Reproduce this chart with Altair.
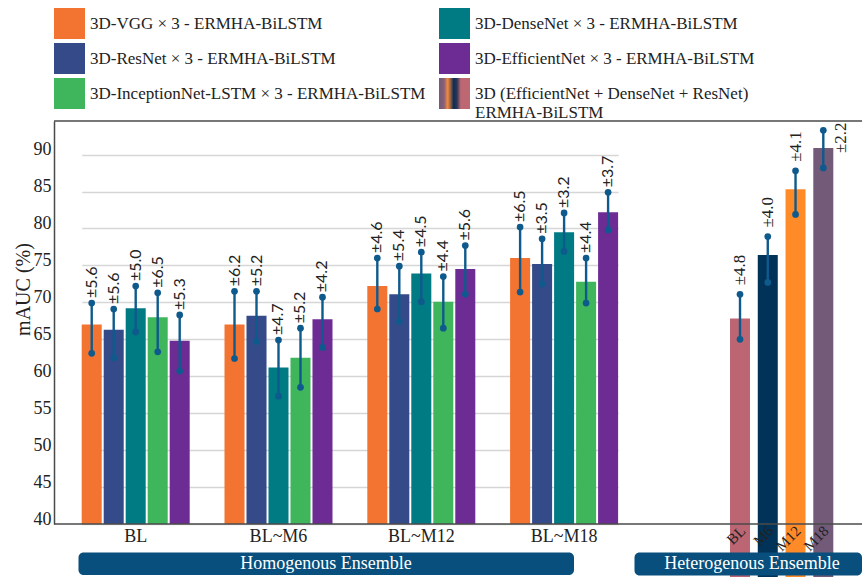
import altair as alt
import pandas as pd

SERIF = "Liberation Serif"
ERR_COLOR = "#0F5A8C"
TEXT_COLOR = "#222222"
Y_TITLE = "mAUC (%)"

# ---------------- data ----------------
periods = ["BL", "BL~M6", "BL~M12", "BL~M18"]

# bar order inside each group
models = [
    "3D-VGG × 3 - ERMHA-BiLSTM",
    "3D-ResNet × 3 - ERMHA-BiLSTM",
    "3D-DenseNet × 3 - ERMHA-BiLSTM",
    "3D-InceptionNet-LSTM  × 3 - ERMHA-BiLSTM",
    "3D-EfficientNet × 3 - ERMHA-BiLSTM",
]
model_colors = ["#F37430", "#344A89", "#007A83", "#3FB65B", "#6D2B94"]

# mean AUC (%) per model, one value per period
mauc = [
    [67.0, 67.0, 72.2, 76.0],
    [66.3, 68.2, 71.1, 75.2],
    [69.2, 61.2, 73.9, 79.5],
    [68.0, 62.5, 70.1, 72.8],
    [64.8, 67.7, 74.5, 82.2],
]
# reported standard deviations
sd = [
    [5.6, 6.2, 4.6, 6.5],
    [5.6, 5.2, 5.4, 3.5],
    [5.0, 4.7, 4.5, 3.2],
    [6.5, 5.2, 4.4, 4.4],
    [5.3, 4.2, 5.6, 3.7],
]
# whisker ends
err_low = [
    [63.1, 62.4, 69.1, 71.4],
    [62.5, 64.7, 67.4, 72.5],
    [66.0, 57.3, 70.1, 76.9],
    [63.3, 58.5, 66.5, 69.9],
    [60.7, 63.9, 71.1, 79.8],
]
err_high = [
    [69.9, 71.5, 76.0, 80.2],
    [69.1, 71.5, 74.9, 78.6],
    [72.2, 64.9, 76.8, 82.1],
    [71.3, 66.5, 73.5, 76.0],
    [68.3, 70.7, 77.7, 84.9],
]

# heterogeneous ensemble
hetero_name = "3D (EfficientNet + DenseNet +  ResNet)|ERMHA-BiLSTM"
stages = ["BL", "M6", "M12", "M18"]
stage_colors = ["#BB6672", "#003357", "#FF8B28", "#725A78"]
het_mauc = [67.8, 76.4, 85.3, 90.9]
het_sd = [4.8, 4.0, 4.1, 2.2]
het_low = [65.0, 72.7, 81.9, 88.2]
het_high = [71.1, 78.9, 87.8, 93.3]

ensembles = ["Homogenous  Ensemble", "Heterogenous  Ensemble"]

# ---------------- tables ----------------
rows = []
for i, m in enumerate(models):
    for j, p in enumerate(periods):
        rows.append(dict(model=m, period=p, mauc=mauc[i][j], sd=sd[i][j],
                         lo=err_low[i][j], hi=err_high[i][j]))
homo_df = pd.DataFrame(rows)

het_df = pd.DataFrame(dict(stage=stages, mauc=het_mauc, sd=het_sd,
                           lo=het_low, hi=het_high))

W, H = 808, 403
y_scale = alt.Scale(domain=[40, 94.55], nice=False, zero=False)

# legend: homogeneous models plus a striped swatch for the mixed ensemble
legend_order = [models[0], models[2], models[1], models[4], models[3], hetero_name]
legend_colors = [model_colors[0], model_colors[2], model_colors[1],
                 model_colors[4], model_colors[3],
                 {"expr": "{gradient: 'linear', x1: 0, y1: 0, x2: 1, y2: 0, stops: ["
                          "{offset: 0, color: '#735A78'}, {offset: 0.16, color: '#86607A'},"
                          "{offset: 0.28, color: '#F58A34'}, {offset: 0.38, color: '#8A5A4C'},"
                          "{offset: 0.47, color: '#0B2F52'}, {offset: 0.58, color: '#2B3556'},"
                          "{offset: 0.7, color: '#BC6772'}, {offset: 1, color: '#BC6772'}]}"}]

# ---------------- homogeneous groups ----------------
base_h = alt.Chart(homo_df).encode(
    x=alt.X("period:N", sort=periods,
            scale=alt.Scale(domain=periods, range=[27.7, 564.1],
                            paddingInner=0.2437, paddingOuter=0),
            axis=alt.Axis(title=None, labelAngle=0, ticks=False, domain=False,
                          grid=False, labelFont=SERIF, labelFontSize=18,
                          labelColor=TEXT_COLOR, labelPadding=3)),
    xOffset=alt.XOffset("model:N", sort=models,
                        scale=alt.Scale(domain=models, paddingInner=0.09,
                                        paddingOuter=0)),
)

bars_h = base_h.mark_bar(clip=True).encode(
    y=alt.Y("mauc:Q", scale=y_scale, title=Y_TITLE,
            axis=alt.Axis(values=list(range(40, 95, 5)),
                          titleFont=SERIF, titleFontSize=20,
                          titleColor=TEXT_COLOR, titleFontWeight="normal",
                          titleAngle=270, titleX=-31, titleY=168,
                          titleAlign="center", titleBaseline="middle")),
    color=alt.Color("model:N",
                    scale=alt.Scale(domain=legend_order, range=legend_colors),
                    legend=alt.Legend(
                        title=None, orient="none", legendX=0, legendY=-113,
                        direction="horizontal", columns=2,
                        columnPadding=9, rowPadding=4, symbolType="square",
                        symbolSize=961, symbolStrokeWidth=0, symbolOpacity=1,
                        labelFont=SERIF, labelFontSize=17,
                        labelColor=TEXT_COLOR, labelLimit=600, labelOffset=5,
                        padding=0, labelExpr="split(datum.label, '|')")),
)

rules_h = base_h.mark_rule(color=ERR_COLOR, strokeWidth=2.4).encode(
    y=alt.Y("lo:Q", scale=y_scale, title=Y_TITLE), y2="hi:Q")

dots_h = base_h.transform_fold(["lo", "hi"], as_=["end", "val"]).mark_circle(
    size=45, color=ERR_COLOR, opacity=1).encode(
    y=alt.Y("val:Q", scale=y_scale, title=Y_TITLE))

labels_h = base_h.transform_calculate(
    lab="'±' + format(datum.sd, '.1f')").mark_text(
    angle=270, align="left", baseline="middle", dx=5,
    font="Lato", fontSize=16, color=TEXT_COLOR).encode(
    y=alt.Y("hi:Q", scale=y_scale, title=Y_TITLE), text="lab:N")

homo_layer = alt.layer(bars_h, rules_h, dots_h, labels_h)

# ---------------- heterogeneous ensemble ----------------
base_e = alt.Chart(het_df).encode(
    x=alt.X("stage:N", sort=stages,
            scale=alt.Scale(domain=stages, range=[676, 779.3],
                            paddingInner=0.28, paddingOuter=0),
            axis=None),
)

bars_e = base_e.mark_bar().encode(
    y=alt.Y("mauc:Q", scale=y_scale, title=Y_TITLE),
    color=alt.Color("stage:N", scale=alt.Scale(domain=stages, range=stage_colors),
                    legend=None),
)
rules_e = base_e.mark_rule(color=ERR_COLOR, strokeWidth=2.4).encode(
    y=alt.Y("lo:Q", scale=y_scale, title=Y_TITLE), y2="hi:Q")
dots_e = base_e.transform_fold(["lo", "hi"], as_=["end", "val"]).mark_circle(
    size=45, color=ERR_COLOR, opacity=1).encode(
    y=alt.Y("val:Q", scale=y_scale, title=Y_TITLE))

het_lab = base_e.transform_calculate(lab="'±' + format(datum.sd, '.1f')")
labels_e = het_lab.transform_filter(alt.datum.stage != "M18").mark_text(
    angle=270, align="left", baseline="middle", dx=9,
    font=SERIF, fontSize=17, color=TEXT_COLOR).encode(
    y=alt.Y("hi:Q", scale=y_scale, title=Y_TITLE), text="lab:N")
# the last label has no room above its whisker, so it sits beside the bar
labels_e_side = het_lab.transform_filter(alt.datum.stage == "M18").mark_text(
    angle=270, align="left", baseline="middle", dx=-5, dy=18,
    font=SERIF, fontSize=17, color=TEXT_COLOR).encode(
    y=alt.Y("mauc:Q", scale=y_scale, title=Y_TITLE), text="lab:N")

stage_ticks = base_e.mark_text(
    angle=315, align="right", baseline="middle", dx=1, dy=3,
    font=SERIF, fontSize=15, color=TEXT_COLOR).encode(
    y=alt.value(H + 3), text="stage:N")

het_layer = alt.layer(bars_e, rules_e, dots_e, labels_e, labels_e_side, stage_ticks)

# ---------------- frame and group banners ----------------
one = pd.DataFrame({"k": [0]})
top_line = alt.Chart(one).mark_rule(color="#4A4A4A", strokeWidth=1.5).encode(
    x=alt.value(0), x2=alt.value(W), y=alt.value(0))
bottom_line = alt.Chart(one).mark_rule(color="#4A4A4A", strokeWidth=1.5).encode(
    x=alt.value(0), x2=alt.value(W), y=alt.value(H))

BANNER = "#084F7D"
banner_df = pd.DataFrame({"name": ensembles})
banner_homo = alt.Chart(banner_df).transform_filter(
    alt.datum.name == ensembles[0]).mark_rect(color=BANNER, cornerRadius=5).encode(
    x=alt.value(24.5), x2=alt.value(520), y=alt.value(431.5), y2=alt.value(454))
banner_het = alt.Chart(banner_df).transform_filter(
    alt.datum.name == ensembles[1]).mark_rect(color=BANNER, cornerRadius=5).encode(
    x=alt.value(580.5), x2=alt.value(808), y=alt.value(431.5), y2=alt.value(454.5))
banner_homo_txt = alt.Chart(banner_df).transform_filter(
    alt.datum.name == ensembles[0]).mark_text(
    font=SERIF, fontSize=18, color="white", baseline="middle").encode(
    x=alt.value(272), y=alt.value(443), text="name:N")
banner_het_txt = alt.Chart(banner_df).transform_filter(
    alt.datum.name == ensembles[1]).mark_text(
    font=SERIF, fontSize=18, color="white", baseline="middle").encode(
    x=alt.value(698), y=alt.value(443), text="name:N")

chart = alt.layer(
    homo_layer, het_layer, top_line, bottom_line,
    banner_homo, banner_het, banner_homo_txt, banner_het_txt,
).resolve_scale(
    x="independent", color="independent"
).properties(
    width=W, height=H,
    padding={"left": 54, "top": 121, "right": 0, "bottom": 53},
    autosize=alt.AutoSizeParams(type="none"),
).configure_view(
    stroke=None
).configure_axisY(
    grid=True, gridColor="#D6D6D6", gridWidth=1.6,
    domainColor="#4A4A4A", domainWidth=1.5, ticks=False,
    labelFont=SERIF, labelFontSize=18, labelColor=TEXT_COLOR,
    labelBaseline="alphabetic", labelPadding=3,
)

chart.save("out.html", embed_options={"renderer": "svg", "actions": False})
